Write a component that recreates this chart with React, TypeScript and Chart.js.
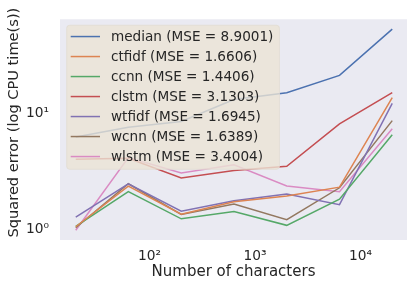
import React, { useEffect, useRef } from 'react';
import { Chart, registerables } from 'chart.js';

Chart.register(...registerables);

const xValues = [20, 63, 200, 632, 2000, 6325, 20000];
const seriesNames = ['median', 'ctfidf', 'ccnn', 'clstm', 'wtfidf', 'wcnn', 'wlstm'];
const mseValues = ['8.9001', '1.6606', '1.4406', '3.1303', '1.6945', '1.6389', '3.4004'];
const seriesColors = ['#4C72B0', '#DD8452', '#55A868', '#C44E52', '#8172B3', '#937860', '#DA8BC3'];

const median = [6.26, 7.61, 8.51, 13.2, 15.1, 21.3, 53.5];
const ctfidf = [1.05, 2.36, 1.35, 1.73, 1.94, 2.31, 13.7];
const ccnn = [1.06, 2.11, 1.23, 1.42, 1.08, 1.82, 6.55];
const clstm = [4.02, 4.1, 2.77, 3.21, 3.49, 8.12, 15.1];
const wtfidf = [1.27, 2.47, 1.43, 1.76, 2.01, 1.63, 12.2];
const wcnn = [1.03, 2.47, 1.34, 1.65, 1.21, 2.28, 8.67];
const wlstm = [0.98, 4.16, 3.06, 3.6, 2.36, 2.11, 7.36];

const seriesValues = [median, ctfidf, ccnn, clstm, wtfidf, wcnn, wlstm];

const xTickValues = [100, 1000, 10000];
const yTickValues = [1, 10];
const xTitle = 'Number of characters';
const yTitle = 'Squared error (log CPU time(s))';
const supers: Record<string, string> = { '0': '⁰', '1': '¹', '2': '²', '3': '³', '4': '⁴' };
const fmtPow = (v: number) => '10' + String(Math.round(Math.log10(v))).split('').map((c) => supers[c] || c).join('');

const FONT = '"DejaVu Sans", sans-serif';
const TEXT = '#262626';

const bgPlugin = {
  id: 'bgPlugin',
  beforeDraw(chart: any) {
    const { ctx, chartArea, width, height } = chart;
    ctx.save();
    ctx.fillStyle = '#ffffff';
    ctx.fillRect(0, 0, width, height);
    ctx.fillStyle = '#EAEAF2';
    ctx.fillRect(chartArea.left, chartArea.top, chartArea.right - chartArea.left, chartArea.bottom - chartArea.top);
    ctx.restore();
  },
};

const yTitlePlugin = {
  id: 'yTitlePlugin',
  afterDraw(chart: any) {
    const { ctx, chartArea } = chart;
    ctx.save();
    ctx.translate(14, (chartArea.top + chartArea.bottom) / 2 - 7);
    ctx.rotate(-Math.PI / 2);
    ctx.font = `14.6px ${FONT}`;
    ctx.fillStyle = TEXT;
    ctx.textAlign = 'center';
    ctx.textBaseline = 'middle';
    ctx.fillText(yTitle, 0, 0);
    ctx.restore();
  },
};

const legendPlugin = {
  id: 'boxLegend',
  afterDatasetsDraw(chart: any) {
    const { ctx, chartArea } = chart;
    ctx.save();
    ctx.font = `13.6px ${FONT}`;
    const labels: string[] = chart.data.datasets.map((d: any) => d.label);
    const maxW = Math.max(...labels.map((l) => ctx.measureText(l).width));
    const bx = chartArea.left + 6.7;
    const by = chartArea.top + 6;
    const textX = bx + 44.3;
    const bw = textX - bx + maxW + 6;
    const rowH = 20;
    const bh = 144;
    const r = 3;
    ctx.beginPath();
    ctx.moveTo(bx + r, by);
    ctx.lineTo(bx + bw - r, by);
    ctx.quadraticCurveTo(bx + bw, by, bx + bw, by + r);
    ctx.lineTo(bx + bw, by + bh - r);
    ctx.quadraticCurveTo(bx + bw, by + bh, bx + bw - r, by + bh);
    ctx.lineTo(bx + r, by + bh);
    ctx.quadraticCurveTo(bx, by + bh, bx, by + bh - r);
    ctx.lineTo(bx, by + r);
    ctx.quadraticCurveTo(bx, by, bx + r, by);
    ctx.closePath();
    ctx.fillStyle = 'rgba(235,228,212,0.8)';
    ctx.fill();
    ctx.strokeStyle = 'rgba(225,220,210,0.8)';
    ctx.lineWidth = 1;
    ctx.stroke();
    chart.data.datasets.forEach((d: any, i: number) => {
      const y = by + 11.3 + i * rowH;
      ctx.beginPath();
      ctx.strokeStyle = d.borderColor;
      ctx.lineWidth = 1.5;
      ctx.moveTo(bx + 4, y);
      ctx.lineTo(bx + 33.3, y);
      ctx.stroke();
      ctx.fillStyle = TEXT;
      ctx.textBaseline = 'middle';
      ctx.textAlign = 'left';
      ctx.fillText(d.label, textX, y + 0.5);
    });
    ctx.restore();
  },
};

export default function App() {
  const ref = useRef<HTMLCanvasElement | null>(null);
  useEffect(() => {
    if (!ref.current) return;
    const chart = new Chart(ref.current, {
      type: 'line',
      data: {
        datasets: seriesNames.map((name, i) => ({
          label: `${name} (MSE = ${mseValues[i]})`,
          data: xValues.map((x, j) => ({ x, y: seriesValues[i][j] })),
          borderColor: seriesColors[i],
          backgroundColor: seriesColors[i],
          borderWidth: 1.5,
          pointRadius: 0,
          tension: 0,
          fill: false,
        })),
      },
      options: {
        animation: false,
        responsive: false,
        maintainAspectRatio: false,
        devicePixelRatio: 1,
        layout: { padding: { left: 0, top: 15, right: 8, bottom: 0 } },
        plugins: { legend: { display: false }, tooltip: { enabled: false } },
        scales: {
          x: {
            type: 'logarithmic',
            min: 14.18,
            max: 27600,
            afterBuildTicks: (s: any) => {
              s.ticks = xTickValues.map((v) => ({ value: v }));
            },
            afterFit: (s: any) => {
              s.height = 49;
            },
            ticks: {
              callback: (v: any) => fmtPow(Number(v)),
              font: { family: FONT, size: 13.75 },
              color: TEXT,
              padding: 8,
              autoSkip: false,
              maxRotation: 0,
            },
            grid: { display: false, drawTicks: false },
            border: { display: false },
            title: {
              display: true,
              text: xTitle,
              font: { family: FONT, size: 15 },
              color: TEXT,
              padding: { top: 0, bottom: 8 },
            },
          },
          y: {
            type: 'logarithmic',
            min: 0.807,
            max: 65.1,
            afterBuildTicks: (s: any) => {
              s.ticks = yTickValues.map((v) => ({ value: v }));
            },
            afterFit: (s: any) => {
              s.width = 60;
            },
            ticks: {
              callback: (v: any) => fmtPow(Number(v)),
              font: { family: FONT, size: 13.75 },
              color: TEXT,
              padding: 11,
              autoSkip: false,
            },
            grid: { display: false, drawTicks: false },
            border: { display: false },
            title: { display: false },
          },
        },
      },
      plugins: [bgPlugin, legendPlugin, yTitlePlugin],
    } as any);
    return () => chart.destroy();
  }, []);
  return (
    <div style={{ position: 'absolute', left: 0, top: 0, width: 415, height: 289 }}>
      <canvas ref={ref} width={415} height={289} style={{ width: 415, height: 289, display: 'block' }} />
    </div>
  );
}
